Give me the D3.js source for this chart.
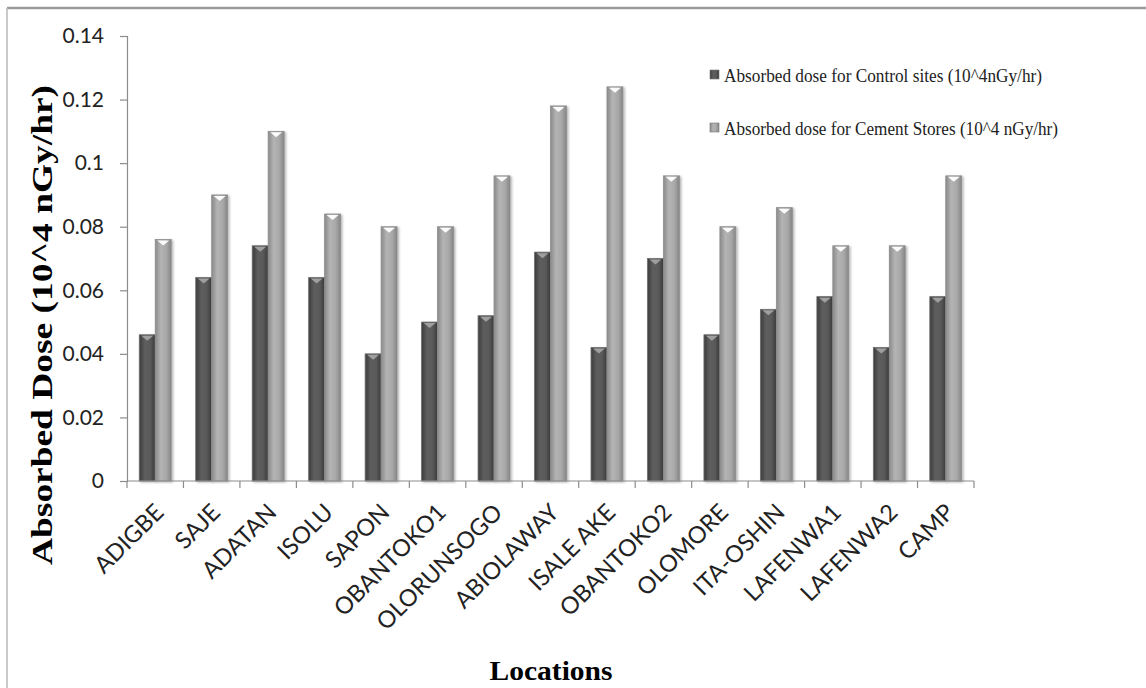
<!DOCTYPE html>
<html>
<head>
<meta charset="utf-8">
<script src="https://cdn.jsdelivr.net/npm/d3@7"></script>
<style>
    body { margin: 0; background: #fff; }
    svg { display: block; }
</style>
</head>
<body>
<div id="chart"></div>
<script>
// values
const locations = ['ADIGBE', 'SAJE', 'ADATAN', 'ISOLU', 'SAPON', 'OBANTOKO1', 'OLORUNSOGO',
    'ABIOLAWAY', 'ISALE AKE', 'OBANTOKO2', 'OLOMORE', 'ITA-OSHIN', 'LAFENWA1', 'LAFENWA2', 'CAMP'];
const controlDose = [0.046, 0.064, 0.074, 0.064, 0.040, 0.050, 0.052, 0.072, 0.042, 0.070, 0.046, 0.054, 0.058, 0.042, 0.058];
const cementDose = [0.076, 0.090, 0.110, 0.084, 0.080, 0.080, 0.096, 0.118, 0.124, 0.096, 0.080, 0.086, 0.074, 0.074, 0.096];
const seriesNames = ['Absorbed dose for Control sites (10^4nGy/hr)', 'Absorbed dose for Cement Stores (10^4 nGy/hr)'];
const yTicks = [0, 0.02, 0.04, 0.06, 0.08, 0.1, 0.12, 0.14];

const W = 1146, H = 688;
const plot = {left: 127, right: 974, top: 36, bottom: 481};

const svg = d3.select('#chart').append('svg')
    .attr('width', W)
    .attr('height', H);

const defs = svg.append('defs');
// cylinder-like shading for the two series
const shades = [
    {id: 'g-dark', stops: ['#3c3c3c', '#5e5e5e', '#595959', '#3a3a3a']},
    {id: 'g-light', stops: ['#8a8a8a', '#b4b4b4', '#a8a8a8', '#858585']}
];
shades.forEach(s => {
    const g = defs.append('linearGradient').attr('id', s.id)
        .attr('x1', 0).attr('x2', 1).attr('y1', 0).attr('y2', 0);
    [0, 0.35, 0.7, 1].forEach((o, i) => g.append('stop').attr('offset', o).attr('stop-color', s.stops[i]));
});
const shadow = defs.append('filter').attr('id', 'shadow')
    .attr('x', -0.3).attr('y', -0.1).attr('width', 1.6).attr('height', 1.2);
shadow.append('feDropShadow').attr('dx', 1.5).attr('dy', 1).attr('stdDeviation', 1.2)
    .attr('flood-color', '#000').attr('flood-opacity', 0.3);

// frame of the chart area
svg.append('line').attr('x1', 7).attr('x2', W).attr('y1', 8).attr('y2', 8)
    .attr('stroke', '#9a9a9a').attr('stroke-width', 2.5);
svg.append('line').attr('x1', 7).attr('x2', 7).attr('y1', 8).attr('y2', H)
    .attr('stroke', '#b8b8b8').attr('stroke-width', 1.5);

// scales
const x = d3.scaleBand()
    .domain(locations)
    .range([plot.left, plot.right])
    .padding(0);

const x1 = d3.scaleBand()
    .domain([0, 1])
    .range([0, x.bandwidth()])
    .paddingInner(0)
    .paddingOuter(0.77);

const y = d3.scaleLinear()
    .domain([0, 0.14])
    .range([plot.bottom, plot.top]);

const data = locations.map((loc, i) => ({loc, values: [controlDose[i], cementDose[i]]}));

// bars
const groups = svg.append('g').selectAll('g')
    .data(data)
    .enter().append('g')
    .attr('transform', d => `translate(${x(d.loc)},0)`);

const bars = groups.selectAll('g.bar')
    .data(d => d.values.map((v, k) => ({v, k})))
    .enter().append('g')
    .attr('class', 'bar');

bars.append('rect')
    .attr('x', d => x1(d.k))
    .attr('y', d => y(d.v))
    .attr('width', x1.bandwidth())
    .attr('height', d => y(0) - y(d.v))
    .attr('fill', d => d.k === 0 ? 'url(#g-dark)' : 'url(#g-light)')
    .attr('stroke', d => d.k === 0 ? '#6e6e6e' : '#8e8e8e')
    .attr('stroke-width', 0.8)
    .attr('filter', 'url(#shadow)');

// bevelled top: small downward triangle
bars.append('path')
    .attr('d', d => {
        const bx = x1(d.k), bw = x1.bandwidth(), by = y(d.v);
        return `M${bx + 2},${by + 1}L${bx + bw - 2},${by + 1}L${bx + bw / 2},${by + 6}Z`;
    })
    .attr('fill', d => d.k === 0 ? '#a2a2a2' : '#ffffff')
    .attr('opacity', 0.95);

// y axis
const yAxis = svg.append('g')
    .attr('transform', `translate(${plot.left},0)`)
    .call(d3.axisLeft(y)
        .tickValues(yTicks)
        .tickSize(7)
        .tickPadding(16)
        .tickFormat(d => String(+d.toFixed(2))));
yAxis.select('.domain').attr('stroke', '#8c8c8c').attr('stroke-width', 1.2);
yAxis.selectAll('.tick line').attr('stroke', '#8c8c8c').attr('stroke-width', 1.2);
yAxis.selectAll('.tick text')
    .style('font-family', 'Lato, "Open Sans", sans-serif')
    .style('font-size', '21px')
    .attr('fill', '#222');

// x axis: line plus ticks at the band edges
const xAxis = svg.append('g');
xAxis.append('line')
    .attr('x1', plot.left).attr('x2', plot.right)
    .attr('y1', y(0)).attr('y2', y(0))
    .attr('stroke', '#8c8c8c').attr('stroke-width', 1.2);
xAxis.selectAll('line.tick')
    .data(locations.map(d => x(d)).concat([plot.right]))
    .enter().append('line')
    .attr('class', 'tick')
    .attr('x1', d => d).attr('x2', d => d)
    .attr('y1', y(0)).attr('y2', y(0) + 7)
    .attr('stroke', '#8c8c8c').attr('stroke-width', 1.2);

xAxis.selectAll('text')
    .data(locations)
    .enter().append('text')
    .attr('transform', d => `translate(${x(d) + x.bandwidth() / 2 + 4},${y(0) + 27}) rotate(-45)`)
    .attr('text-anchor', 'end')
    .attr('dy', '0.35em')
    .style('font-family', 'Lato, "Open Sans", sans-serif')
    .style('font-size', '23.5px')
    .attr('fill', '#222')
    .text(d => d);

// axis titles
svg.append('text')
    .attr('transform', 'rotate(-90)')
    .attr('x', -325)
    .attr('y', 52)
    .attr('text-anchor', 'middle')
    .attr('textLength', 480)
    .attr('lengthAdjust', 'spacingAndGlyphs')
    .style('font-family', '"Liberation Serif", "Times New Roman", serif')
    .style('font-weight', 'bold')
    .style('font-size', '30px')
    .text('Absorbed Dose (10^4 nGy/hr)');

svg.append('text')
    .attr('x', 551)
    .attr('y', 680)
    .attr('text-anchor', 'middle')
    .attr('textLength', 123)
    .attr('lengthAdjust', 'spacingAndGlyphs')
    .style('font-family', '"Liberation Serif", "Times New Roman", serif')
    .style('font-weight', 'bold')
    .style('font-size', '27px')
    .text('Locations');

// legend
const legendWidths = [318, 334];
const legend = svg.append('g').selectAll('g')
    .data(seriesNames)
    .enter().append('g')
    .attr('transform', (d, i) => `translate(710,${70 + i * 53})`);

legend.append('rect')
    .attr('width', 9).attr('height', 9)
    .attr('fill', (d, i) => i === 0 ? 'url(#g-dark)' : 'url(#g-light)')
    .attr('stroke', '#777').attr('stroke-width', 0.6);

legend.append('text')
    .attr('x', 14)
    .attr('y', 12)
    .attr('textLength', (d, i) => legendWidths[i])
    .attr('lengthAdjust', 'spacingAndGlyphs')
    .style('font-family', '"Liberation Serif", "Times New Roman", serif')
    .style('font-size', '18px')
    .attr('fill', '#222')
    .text(d => d);
</script>
</body>
</html>
